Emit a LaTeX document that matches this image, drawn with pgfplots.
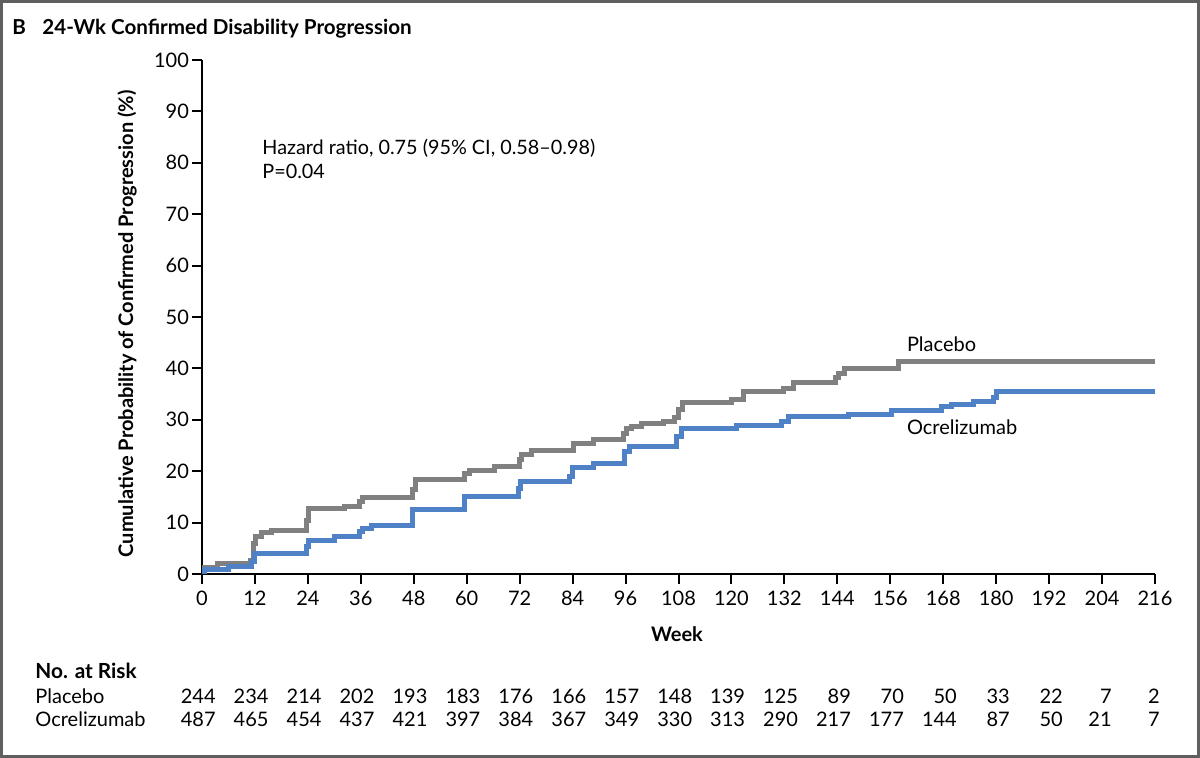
\documentclass[border=0pt]{standalone}
\usepackage{pgfplots}
\pgfplotsset{compat=1.18}
\usepackage{fontspec}
\setmainfont{Lato}

\definecolor{plac}{RGB}{128,128,128}
\definecolor{ocre}{RGB}{79,129,199}
\definecolor{framec}{RGB}{95,95,95}

% Kaplan-Meier steps (week, cumulative %)
\pgfplotstableread{
week prob
0     1.2
3.6   2.1
10.9  2.7
11.6  6.0
12.2  7.3
13.5  8.0
15.8  8.4
23.7  10.5
24.2  12.8
32.4  13.2
35.8  14.2
36.3  14.8
47.6  16.5
48.3  18.3
59.6  19.5
60.7  20.2
66.4  20.9
72.0  22.3
72.4  23.2
74.7  24.0
84.2  25.3
88.7  26.1
95.5  27.3
96.3  28.3
97.4  28.7
99.6  29.2
104.5 29.6
107.2 30.5
108.0 32.0
109.0 33.3
120.0 34.0
122.7 35.5
131.7 36.1
134.0 37.2
143.5 38.2
144.2 39.0
145.7 40.0
157.8 41.3
216   41.3
}\placebo

\pgfplotstableread{
week prob
0     0.5
0.5   0.9
5.9   1.4
11.3  2.4
12.0  3.9
23.7  5.3
24.2  6.6
30.1  7.3
35.8  8.3
36.3  8.9
38.4  9.4
47.8  12.5
59.6  15.0
71.7  16.7
72.1  18.0
83.4  18.9
84.0  20.7
88.7  21.4
95.8  23.8
96.8  24.8
107.5 26.7
108.7 28.3
121.2 28.8
131.4 29.6
132.9 30.7
146.5 31.1
156.3 31.8
167.6 32.5
169.8 33.0
174.8 33.5
179.3 34.4
180.0 35.5
216   35.5
}\ocrelizumab

\begin{document}
\begin{tikzpicture}
\useasboundingbox (0,0) rectangle (600pt,379pt);
\fill[white] (0,0) rectangle (600pt,379pt);
\draw[framec, line width=1.5pt] (0.75pt,0.75pt) rectangle (599.25pt,378.25pt);

% title
\node[anchor=base west, inner sep=0pt, font=\fontsize{10.3}{12}\selectfont\bfseries] at (6pt,361.5pt) {B};
\node[anchor=base west, inner sep=0pt, font=\fontsize{10.3}{12}\selectfont\bfseries] at (21pt,361.5pt) {24-Wk Confirmed Disability Progression};

\begin{axis}[
    at={(101pt,92pt)}, anchor=south west,
    scale only axis,
    width=476.5pt, height=257pt,
    xmin=0, xmax=216,
    ymin=0, ymax=100,
    axis lines*=left,
    axis line style={line width=1pt, -},
    tick style={line width=1pt, black},
    tick align=outside,
    major tick length=5pt,
    xtick={0,12,...,216},
    ytick={0,10,...,100},
    tick label style={font=\fontsize{10}{12}\selectfont},
    /pgf/number format/assume math mode=true,
    yticklabel style={xshift=2pt},
    clip=false,
]
\addplot[const plot, color=plac, line width=2.5pt] table[x=week, y=prob] {\placebo};
\addplot[const plot, color=ocre, line width=2.5pt] table[x=week, y=prob] {\ocrelizumab};
\end{axis}

% annotations
\node[anchor=base west, inner sep=0pt, font=\fontsize{9.9}{12}\selectfont] at (131pt,301.5pt) {Hazard ratio, 0.75 (95\% CI, 0.58--0.98)};
\node[anchor=base west, inner sep=0pt, font=\fontsize{9.9}{12}\selectfont] at (131pt,289.5pt) {P=0.04};
\node[anchor=base west, inner sep=0pt, font=\fontsize{10}{12}\selectfont] at (453.3pt,203pt) {Placebo};
\node[anchor=base west, inner sep=0pt, font=\fontsize{10}{12}\selectfont] at (453.3pt,161.5pt) {Ocrelizumab};

% axis titles
\node[font=\fontsize{10}{12}\selectfont\bfseries] at (338.5pt,62pt) {Week};
\node[rotate=90, font=\fontsize{10}{12}\selectfont\bfseries] at (63.5pt,217pt) {Cumulative Probability of Confirmed Progression (\%)};

% number at risk
\node[anchor=base west, inner sep=0pt, font=\fontsize{10.4}{12}\selectfont\bfseries] at (17.5pt,39.5pt) {No. at Risk};
\node[anchor=base west, inner sep=0pt, font=\fontsize{10}{12}\selectfont] at (17.5pt,27pt) {Placebo};
\node[anchor=base west, inner sep=0pt, font=\fontsize{10}{12}\selectfont] at (17.5pt,15.5pt) {Ocrelizumab};
\foreach \w/\p/\o/\d in {0/244/487/7, 12/234/465/7, 24/214/454/7, 36/202/437/7,
  48/193/421/7, 60/183/397/7, 72/176/384/7, 84/166/367/7, 96/157/349/7,
  108/148/330/7, 120/139/313/7, 132/125/290/7, 144/89/217/7, 156/70/177/7,
  168/50/144/7, 180/33/87/7, 192/22/50/7, 204/7/21/5, 216/2/7/2.5} {
  \pgfmathsetmacro{\xx}{101 + \w/216*476.5 + \d}
  \node[anchor=base east, inner sep=0pt, font=\fontsize{10}{12}\selectfont] at (\xx pt,27pt) {\p};
  \node[anchor=base east, inner sep=0pt, font=\fontsize{10}{12}\selectfont] at (\xx pt,15.5pt) {\o};
}
\end{tikzpicture}
\end{document}
